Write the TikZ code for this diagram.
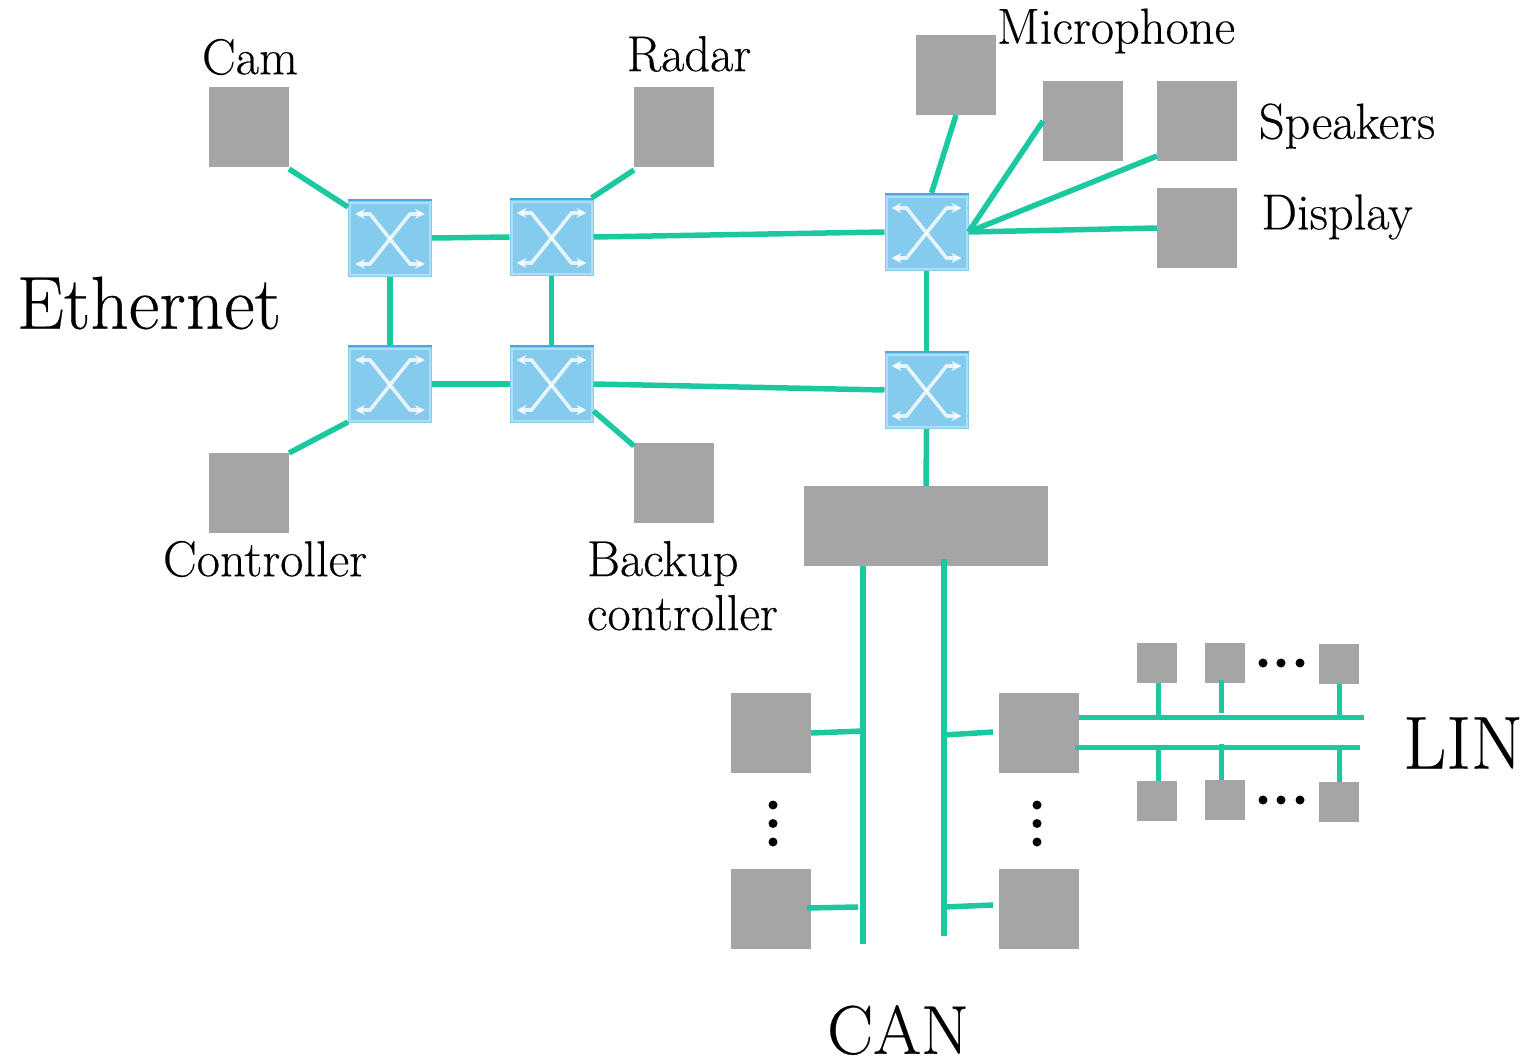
\documentclass[tikz,border=0pt]{standalone}
\usepackage{fontspec}
\setmainfont[FakeBold=0.35]{Latin Modern Roman}
\usetikzlibrary{arrows.meta}
\definecolor{ecugray}{HTML}{A5A5A5}
\definecolor{bus}{HTML}{1CC8A0}
\definecolor{swfill}{HTML}{85CBEE}
\definecolor{swtop}{HTML}{45A8DE}
\newcommand{\txt}[2]{\fontsize{#1}{#2}\selectfont}
\tikzset{
  ecu/.style={fill=ecugray,draw=none,inner sep=0pt,outer sep=0pt,minimum width=80pt,minimum height=80pt},
  tiny ecu/.style={ecu,minimum width=40pt,minimum height=40pt},
  gateway/.style={ecu,minimum width=244pt,minimum height=80pt},
  switchbox/.style={fill=swfill,draw=none,inner sep=0pt,outer sep=0pt,minimum width=84pt,minimum height=78pt},
  link/.style={draw=bus,line width=5.5pt},
  thin link/.style={draw=bus,line width=5pt},
  label/.style={inner sep=0pt,outer sep=0pt,font=\txt{50.5}{54},text=black,anchor=center},
  big label/.style={label,font=\txt{75}{80}},
  dotmark/.style={fill=black,circle,inner sep=0pt,minimum size=9pt},
  swx/.style={draw=white,line width=3.6pt,opacity=.8,{Stealth[length=10pt,width=10pt]}-{Stealth[length=10pt,width=10pt]}}
}
\newcommand{\swnode}[3]{%
  \node[switchbox] (#1) at (#2,#3) {};
  \draw[swtop,line width=2.5pt] ([yshift=-1pt]#1.north west) -- ([yshift=-1pt]#1.north east);
  \draw[white,opacity=.35,line width=2pt] ([shift={(2pt,-4pt)}]#1.north west) rectangle ([shift={(-2pt,2pt)}]#1.south east);
  \begin{scope}[shift={(#1.center)}]
    \draw[swx] (-35,-24) -- (-20,-24) -- (20,26) -- (35,26);
    \draw[swx] (-35,26) -- (-20,26) -- (20,-24) -- (35,-24);
  \end{scope}}
\begin{document}
\begin{tikzpicture}[x=1pt,y=-1pt]
\useasboundingbox (0,0) rectangle (1526,1059);
% ECUs
\node[ecu] (cam) at (249,127) {};
\node[ecu] (radar) at (674,127) {};
\node[ecu] (ctrl) at (249,493) {};
\node[ecu] (backup) at (674,483) {};
\node[ecu] (mic) at (956,75) {};
\node[ecu] (spkA) at (1083,121) {};
\node[ecu] (spkB) at (1197,121) {};
\node[ecu] (disp) at (1197,228) {};
\node[gateway] (gw) at (926,526) {};
\node[ecu] (canA) at (771,733) {};
\node[ecu] (canB) at (771,909) {};
\node[ecu] (canC) at (1039,733) {};
\node[ecu] (canD) at (1039,909) {};
\node[tiny ecu] (linA) at (1157,663) {};
\node[tiny ecu] (linB) at (1225,663) {};
\node[tiny ecu] (linC) at (1339,664) {};
\node[tiny ecu] (linD) at (1157,801) {};
\node[tiny ecu] (linE) at (1225,800) {};
\node[tiny ecu] (linF) at (1339,802) {};
% Switches
\swnode{swA}{390}{238}
\swnode{swB}{551.5}{237}
\swnode{swC}{926.5}{232}
\swnode{swD}{390}{384}
\swnode{swE}{551.5}{384}
\swnode{swF}{926.5}{390}
% Ethernet links
\draw[link] ([yshift=-2pt]cam.south east) -- ([yshift=-8pt]swA.north west);
\draw[link] ([yshift=-3pt]radar.south west) -- ([xshift=-2pt]swB.north east);
\draw[link] (ctrl.north east) -- ([yshift=1pt]swD.south west);
\draw[link] ([yshift=12pt]swE.south east) -- ([yshift=-3pt]backup.north west);
\draw[link] (swA.east) -- (swB.west);
\draw[link] (swB.east) -- (swC.west);
\draw[link] (swD.east) -- (swE.west);
\draw[link] (swE.east) -- (swF.west);
\draw[link] (swA.south) -- (swD.north);
\draw[link] (swB.south) -- (swE.north);
\draw[link] (swC.south) -- (swF.north);
\draw[link] (mic.south) -- ([xshift=5pt]swC.north);
\draw[link] (spkA.west) -- (swC.east);
\draw[link] ([yshift=5pt]spkB.south west) -- (swC.east);
\draw[link] (disp.west) -- (swC.east);
\draw[link] (swF.south) -- (gw.north);
% CAN
\coordinate (canLtop) at (863,566);
\coordinate (canLbot) at (863,944);
\coordinate (canRtop) at (944,559);
\coordinate (canRbot) at (944,936);
\draw[link] (canLtop) -- (canLbot);
\draw[link] (canRtop) -- (canRbot);
\coordinate (tapA) at (863,731);
\coordinate (tapB) at (858,907);
\coordinate (tapC) at (944,735);
\coordinate (tapD) at (944,907);
\draw[link] (canA.east) -- (tapA);
\draw[link] ([shift={(-4pt,1pt)}]canB.east) -- (tapB);
\draw[link] ([shift={(-6pt,1pt)}]canC.west) -- (tapC);
\draw[link] ([shift={(-6pt,4pt)}]canD.west) -- (tapD);
% LIN
\coordinate (linTopEnd) at (1364,717.5);
\coordinate (linBotEnd) at (1360,747);
\coordinate (linTopA) at (1158,717);
\coordinate (linTopB) at (1221,713);
\coordinate (linTopC) at (1339,717);
\coordinate (linBotA) at (1158,747);
\coordinate (linBotB) at (1221,744);
\coordinate (linBotC) at (1339,747);
\draw[thin link] (canC.east |- linTopEnd) -- (linTopEnd);
\draw[thin link] ([xshift=-4pt]canC.east |- linBotEnd) -- (linBotEnd);
\draw[thin link] (linA.south -| linTopA) -- (linTopA);
\draw[thin link] (linTopB |- linB.south) ++(0,-3) -- (linTopB);
\draw[thin link] (linC.south) -- (linTopC);
\draw[thin link] (linBotA) -- (linBotA |- linD.north);
\draw[thin link] (linBotB) -- (linBotB |- linE.north) ++(0,-3);
\draw[thin link] (linBotC) -- (linF.north);
% Dots
\foreach \nm/\x/\y in {a/1263/663,b/1281/663,c/1300/663,d/1263/800,e/1281/800,f/1300/800,
  g/773/805,h/773/823.5,i/773/842,j/1037/805,k/1037/823.5,l/1037/842}
  \node[dotmark] (dot\nm) at (\x,\y) {};
% Labels
\node[label] (lcam) at (250,57) {Cam};
\node[label] (lradar) at (689,54) {Radar};
\node[label] (lmic) at (1116,31) {Microphone};
\node[label] (lspk) at (1347,126) {Speakers};
\node[label] (ldisp) at (1337,217) {Display};
\node[big label] (leth) at (149,303) {Ethernet};
\node[label] (lctrl) at (265,559) {Controller};
\node[label,align=left,anchor=north west] (lback) at (587,541) {Backup\\controller};
\node[label,font=\txt{69}{80}] (lcan) at (898,1030) {CAN};
\node[big label] (llin) at (1463,743) {LIN};
\end{tikzpicture}
\end{document}
